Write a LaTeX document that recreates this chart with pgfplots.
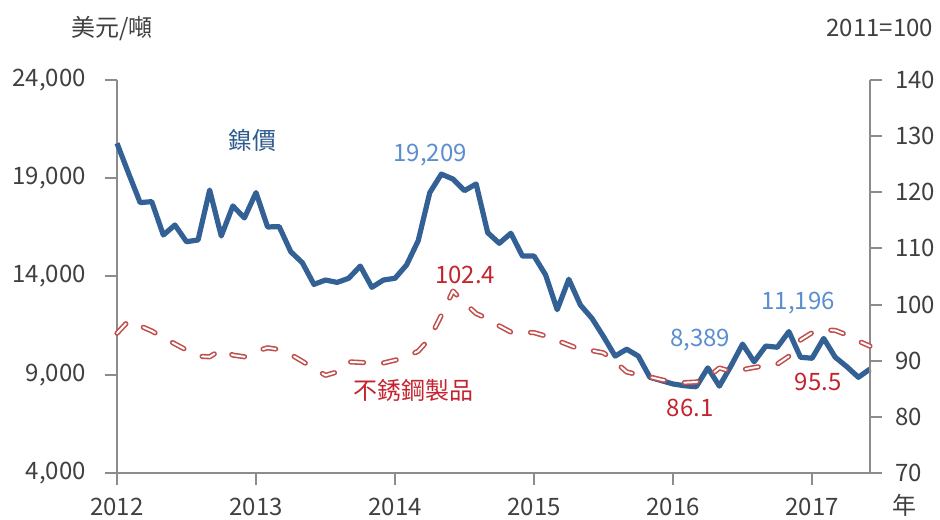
\documentclass[border=0pt]{standalone}
\usepackage{pgfplots}
\usepackage{pgfplotstable}
\pgfplotsset{compat=1.18}
\usepackage{fontspec}
\setmainfont{Noto Sans CJK TC}

\definecolor{nickel}{HTML}{336195}
\definecolor{nickeltxt}{HTML}{2E5A8C}
\definecolor{lblue}{HTML}{5A8ECF}
\definecolor{steel}{HTML}{C0504D}
\definecolor{steeltxt}{HTML}{C4242F}
\definecolor{axgray}{HTML}{8C8C8C}
\definecolor{txtgray}{HTML}{404040}

% monthly, 0 = Jan 2012
\pgfplotstableread{
m price
0 20780
1 19250
2 17760
3 17810
4 16110
5 16620
6 15770
7 15860
8 18400
9 16060
10 17590
11 16980
12 18270
13 16520
14 16540
15 15260
16 14700
17 13600
18 13820
19 13700
20 13910
21 14530
22 13450
23 13820
24 13910
25 14590
26 15820
27 18270
28 19209
29 18960
30 18370
31 18710
32 16230
33 15690
34 16200
35 15040
36 15040
37 14080
38 12310
39 13860
40 12550
41 11870
42 10940
43 9950
44 10300
45 9950
46 8870
47 8700
48 8530
49 8440
50 8389
51 9350
52 8420
53 9450
54 10560
55 9660
56 10460
57 10400
58 11196
59 9890
60 9840
61 10850
62 9890
63 9410
64 8870
65 9290
}\nickeltab

\pgfplotstableread{
m idx
0 94.9
1 97.1
2 96.2
3 95.3
4 94.1
5 93.0
6 91.9
7 90.8
8 90.7
9 92.0
10 91.0
11 90.7
12 91.7
13 92.3
14 92.0
15 91.1
16 89.9
17 88.6
18 87.4
19 88.0
20 89.8
21 89.7
22 89.6
23 89.6
24 90.1
25 90.7
26 91.7
27 94.0
28 98.1
29 102.4
30 100.3
31 98.4
32 97.5
33 96.2
34 95.1
35 95.1
36 95.0
37 94.4
38 93.6
39 92.8
40 92.0
41 91.8
42 91.4
43 89.8
44 88.0
45 87.5
46 87.1
47 86.6
48 86.2
49 86.1
50 86.2
51 87.1
52 88.7
53 88.1
54 88.4
55 88.8
56 89.1
57 89.4
58 90.8
59 93.7
60 95.0
61 95.5
62 95.4
63 94.6
64 93.5
65 92.6
}\steeltab

\pgfplotsset{
  base/.style={
    scale only axis, width=376.5pt, height=196.5pt,
    xmin=0, xmax=65, clip=false,
    axis line style={axgray, line width=1pt},
    tick style={axgray, line width=1pt},
    major tick length=6pt, tick align=outside,
    ticklabel style={font=\fontsize{12}{14}\selectfont, text=txtgray},
    /pgf/number format/assume math mode=true,
    scaled y ticks=false,
  }
}

\begin{document}
\begin{tikzpicture}
\useasboundingbox (-58.5pt,-23pt) rectangle (411.5pt,236.5pt);
\begin{axis}[base,
    axis y line*=left, axis x line*=bottom,
    ymin=4000, ymax=24000,
    ytick={4000,9000,14000,19000,24000},
    /pgf/number format/1000 sep={,},
    xtick={0,12,24,36,48,60},
    xticklabels={2012,2013,2014,2015,2016,2017},
    xticklabel style={yshift=-3pt},
    yticklabel style={xshift=-6pt},
  ]
  \addplot[nickel, line width=2.6pt, line join=round] table[x=m, y=price] {\nickeltab};
  \node[font=\fontsize{12}{14}\selectfont, text=nickeltxt] at (axis cs:11.66,20950) {鎳價};
  \node[font=\fontsize{12}{14}\selectfont, text=lblue] at (axis cs:27.03,20180) {19,209};
  \node[font=\fontsize{12}{14}\selectfont, text=lblue] at (axis cs:50.35,10770) {8,389};
  \node[font=\fontsize{12}{14}\selectfont, text=lblue] at (axis cs:58.8,12650) {11,196};
  \node[font=\fontsize{12}{14}\selectfont, text=txtgray] at (rel axis cs:-0.007,1.132) {美元/噸};
  \node[font=\fontsize{12}{14}\selectfont, text=txtgray] at (rel axis cs:1.013,1.132) {2011=100};
  \node[font=\fontsize{12}{14}\selectfont, text=txtgray] at (rel axis cs:1.046,-0.081) {年};
\end{axis}
\begin{axis}[base,
    axis y line*=right, axis x line=none,
    ymin=70, ymax=140,
    ytick={70,80,...,140},
    yticklabel style={xshift=3pt},
  ]
  \addplot[steel, line width=0.8pt, double=white, double distance=1pt,
           line cap=round, line join=round, dash pattern=on 6.5pt off 10pt]
    table[x=m, y=idx] {\steeltab};
  \node[font=\fontsize{12}{14}\selectfont, text=steeltxt] at (axis cs:30.05,105.3) {102.4};
  \node[font=\fontsize{12}{14}\selectfont, text=steeltxt] at (axis cs:25.56,84.8) {不銹鋼製品};
  \node[font=\fontsize{12}{14}\selectfont, text=steeltxt] at (axis cs:49.48,81.6) {86.1};
  \node[font=\fontsize{12}{14}\selectfont, text=steeltxt] at (axis cs:60.53,86.2) {95.5};
\end{axis}
\end{tikzpicture}
\end{document}
